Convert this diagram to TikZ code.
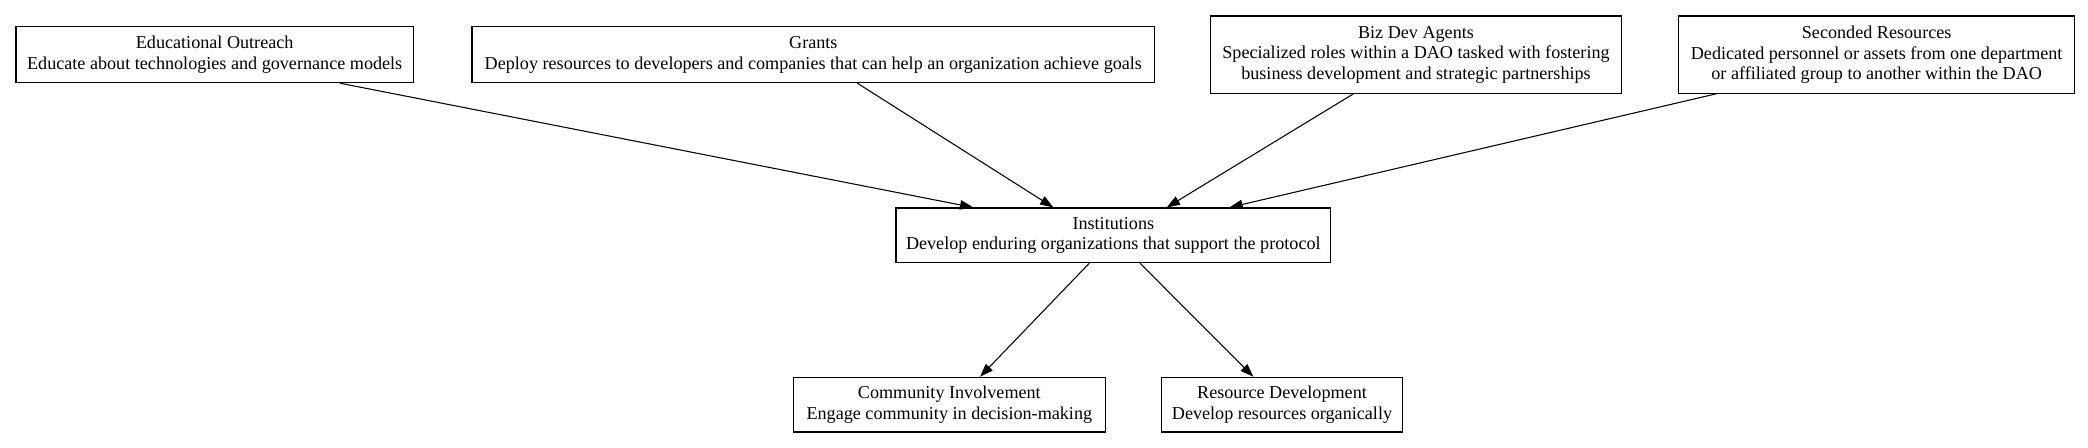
\documentclass[tikz,border=0pt]{standalone}
\usepackage{fontspec}
\setmainfont{Liberation Serif}
\usetikzlibrary{arrows.meta}
\begin{document}
\begin{tikzpicture}[x=1pt,y=1pt,
  box/.style={draw=black, line width=0.8pt, inner sep=0pt, align=center,
    font=\fontsize{13.6}{15.5}\selectfont, minimum height=42pt},
  tall/.style={minimum height=58pt},
  conn/.style={draw=black, line width=0.8pt, -{Triangle[length=10pt,width=7pt]}}]
\fill[white] (0,0) rectangle (1566,-335.3);
\useasboundingbox (0,0) rectangle (1566,-335.3);
\node[box, minimum width=298pt] (edu) at (161,-41) {Educational Outreach\\Educate about technologies and governance models};
\node[box, minimum width=512pt] (grants) at (610,-41) {Grants\\Deploy resources to developers and companies that can help an organization achieve goals};
\node[box, tall, minimum width=308pt] (biz) at (1062,-41) {Biz Dev Agents\\Specialized roles within a DAO tasked with fostering\\business development and strategic partnerships};
\node[box, tall, minimum width=297pt] (sec) at (1407.5,-41) {Seconded Resources\\Dedicated personnel or assets from one department\\or affiliated group to another within the DAO};
\node[box, minimum width=326pt, minimum height=41pt] (inst) at (835,-176.5) {Institutions\\Develop enduring organizations that support the protocol};
\node[box, minimum width=234pt, minimum height=41pt] (comm) at (712,-303.5) {Community Involvement\\Engage community in decision-making};
\node[box, minimum width=181pt, minimum height=41pt] (res) at (961.5,-303.5) {Resource Development\\Develop resources organically};
\draw[conn] ([xshift=94pt]edu.south) -- ([xshift=-105pt]inst.north);
\draw[conn] ([xshift=33pt]grants.south) -- ([xshift=-45pt]inst.north);
\draw[conn] ([xshift=-47pt]biz.south) -- ([xshift=40pt]inst.north);
\draw[conn] ([xshift=-120.5pt]sec.south) -- ([xshift=87pt]inst.north);
\draw[conn] ([xshift=-18pt]inst.south) -- ([xshift=23pt]comm.north);
\draw[conn] ([xshift=20pt]inst.south) -- ([xshift=-21.5pt]res.north);
\end{tikzpicture}
\end{document}
